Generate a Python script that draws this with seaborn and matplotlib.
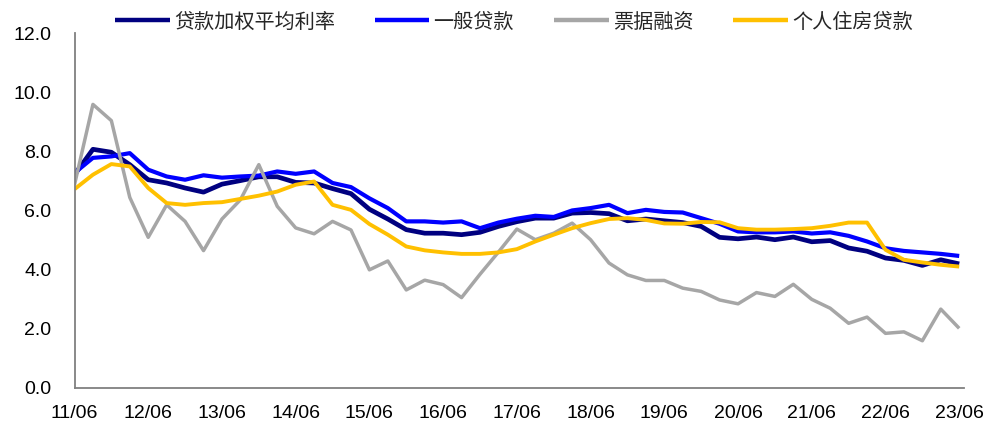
import matplotlib
matplotlib.use("Agg")
import matplotlib.pyplot as plt
import seaborn as sns
import pandas as pd
import numpy as np

# Quarterly data, 2011/06 .. 2023/06 (49 quarters)
tick_labels = ["11/06", "12/06", "13/06", "14/06", "15/06", "16/06", "17/06",
               "18/06", "19/06", "20/06", "21/06", "22/06", "23/06"]

weighted_avg = [7.22, 8.08, 7.98, 7.56, 7.05, 6.94, 6.77, 6.63, 6.90, 7.02,
                7.15, 7.15, 6.96, 6.94, 6.75, 6.58, 6.05, 5.72, 5.36, 5.24,
                5.24, 5.19, 5.27, 5.47, 5.63, 5.75, 5.75, 5.92, 5.94, 5.90,
                5.66, 5.72, 5.66, 5.60, 5.47, 5.10, 5.05, 5.11, 5.02, 5.11,
                4.95, 4.99, 4.74, 4.63, 4.40, 4.32, 4.15, 4.34, 4.20]

general_loans = [7.28, 7.79, 7.84, 7.95, 7.39, 7.16, 7.05, 7.20, 7.12, 7.16,
                 7.19, 7.33, 7.25, 7.33, 6.94, 6.80, 6.42, 6.09, 5.64, 5.64,
                 5.60, 5.64, 5.41, 5.60, 5.73, 5.83, 5.79, 6.01, 6.09, 6.20,
                 5.92, 6.03, 5.96, 5.94, 5.75, 5.56, 5.30, 5.27, 5.27, 5.30,
                 5.23, 5.27, 5.15, 4.96, 4.73, 4.64, 4.59, 4.54, 4.47]

bill_financing = [6.88, 9.60, 9.05, 6.45, 5.10, 6.20, 5.64, 4.65, 5.72, 6.37,
                  7.56, 6.15, 5.42, 5.22, 5.64, 5.35, 4.00, 4.30, 3.32, 3.65,
                  3.50, 3.06, 3.85, 4.60, 5.38, 5.02, 5.24, 5.58, 5.02, 4.23,
                  3.83, 3.64, 3.64, 3.38, 3.27, 2.98, 2.85, 3.23, 3.10, 3.51,
                  3.00, 2.70, 2.19, 2.40, 1.85, 1.90, 1.60, 2.67, 2.02]

mortgage = [6.73, 7.22, 7.58, 7.50, 6.77, 6.26, 6.20, 6.26, 6.29, 6.40,
            6.51, 6.65, 6.88, 6.99, 6.20, 6.03, 5.55, 5.19, 4.79, 4.66,
            4.59, 4.54, 4.54, 4.59, 4.70, 4.96, 5.19, 5.41, 5.58, 5.72,
            5.75, 5.69, 5.57, 5.56, 5.62, 5.61, 5.41, 5.36, 5.36, 5.38,
            5.41, 5.49, 5.60, 5.60, 4.68, 4.34, 4.25, 4.17, 4.11]

series_names = ["贷款加权平均利率", "一般贷款", "票据融资", "个人住房贷款"]
series_values = [weighted_avg, general_loans, bill_financing, mortgage]
colors = ["#000080", "#0000FF", "#A6A6A6", "#FFC000"]
widths = [3.4, 3.0, 2.5, 2.8]

sns.set_theme(style="white")
plt.rcParams["font.family"] = ["Liberation Sans", "DejaVu Sans"]

fig = plt.figure(figsize=(9.9, 4.21), dpi=100)
ax = fig.add_axes([74.5 / 990, 1 - 388 / 421, (964 - 74.5) / 990, (388 - 33.5) / 421])

n = len(weighted_avg)
idx = np.arange(n)
for name, vals, c, w in zip(series_names, series_values, colors, widths):
    df = pd.DataFrame({"q": idx, "v": vals})
    sns.lineplot(data=df, x="q", y="v", ax=ax, color=c, linewidth=w,
                 label=name, solid_joinstyle="round", solid_capstyle="butt")

ax.set_xlim(0, 48.26)
ax.set_ylim(0, 12)
ax.set_yticks(np.arange(0, 12.1, 2.0))
ax.set_yticklabels([f"{v:.1f}" for v in np.arange(0, 12.1, 2.0)])
ax.set_xticks(range(0, n, 4))
ax.set_xticklabels(tick_labels)
ax.set_xlabel("")
ax.set_ylabel("")

for s in ["top", "right"]:
    ax.spines[s].set_visible(False)
for s in ["left", "bottom"]:
    ax.spines[s].set_color("#808080")
    ax.spines[s].set_linewidth(1.3)

ax.tick_params(axis="both", which="both", direction="out", color="#808080",
               width=1.3, labelsize=14, labelcolor="black")
ax.tick_params(axis="y", length=4.5, pad=12)
ax.tick_params(axis="x", length=4, pad=8)
ax.grid(False)

handles, labels = ax.get_legend_handles_labels()
ax.get_legend().remove()
leg = fig.legend(handles, labels, loc="center", bbox_to_anchor=(514 / 990, 1 - 22 / 421),
                 ncol=4, frameon=False, handlelength=2.7, handletextpad=0.2,
                 columnspacing=2.0, prop={"family": ["Noto Sans CJK SC", "DejaVu Sans"], "size": 14.5})
for lh in leg.get_lines():
    lh.set_linewidth(3.2)

fig.savefig("out.png", dpi=100)
